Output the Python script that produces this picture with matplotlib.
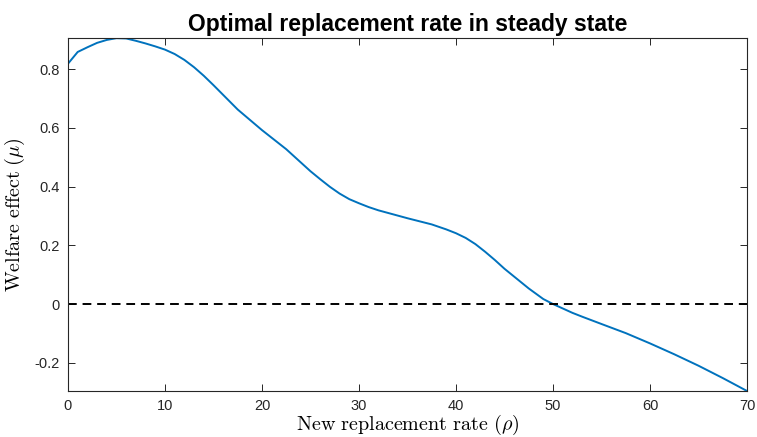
import numpy as np
import matplotlib
matplotlib.use('Agg')
import matplotlib.pyplot as plt
from matplotlib.ticker import FuncFormatter

plt.rcParams['font.family'] = ['Liberation Sans', 'DejaVu Sans']
plt.rcParams['mathtext.fontset'] = 'cm'
plt.rcParams['axes.unicode_minus'] = False

# new replacement rate (rho) and welfare effect (mu)
rho = [0, 1, 2, 3, 4, 5, 6, 7, 8, 9, 10, 11, 12, 13, 14, 15, 17.5, 20,
       22.5, 25, 26, 27, 28, 29, 30, 31, 32, 33, 35, 37.5, 39, 40, 41, 42,
       43, 44, 45, 47.5, 49, 50, 51, 52, 53, 55, 57.5, 60, 62.5, 65, 67.5, 70]
mu = [0.818, 0.858, 0.874, 0.889, 0.899, 0.905, 0.904, 0.896, 0.887, 0.877,
      0.866, 0.851, 0.831, 0.806, 0.777, 0.745, 0.662, 0.592, 0.527, 0.452,
      0.425, 0.399, 0.376, 0.357, 0.343, 0.330, 0.319, 0.310, 0.292, 0.271,
      0.254, 0.241, 0.225, 0.204, 0.178, 0.150, 0.120, 0.053, 0.017, 0.0,
      -0.015, -0.030, -0.043, -0.068, -0.099, -0.134, -0.171, -0.210, -0.252,
      -0.296]

xticks = [0, 10, 20, 30, 40, 50, 60, 70]
yticks = [-0.2, 0, 0.2, 0.4, 0.6, 0.8]

fig = plt.figure(figsize=(7.57, 4.37), dpi=100)
ax = fig.add_axes([0.0898, 0.1053, 0.897, 0.8077])

ax.plot(rho, mu, color='#0072BD', lw=1.4)
ax.axhline(0, color='black', ls=(0, (4.5, 3)), lw=1.4)

ax.set_xlim(0, 70)
ax.set_ylim(-0.296, 0.9055)
ax.set_xticks(xticks)
ax.set_yticks(yticks)
ax.yaxis.set_major_formatter(FuncFormatter(lambda v, p: '%g' % v))
ax.tick_params(direction='in', length=5, width=0.7, top=True, right=True,
               labelsize=10.5, colors='#262626', pad=6)
for s in ax.spines.values():
    s.set_color('#262626')
    s.set_linewidth(0.8)

ax.set_title('Optimal replacement rate in steady state', fontsize=16.5,
             fontweight='bold', pad=5)
ax.set_xlabel(r'$\mathrm{New\ replacement\ rate\ }(\rho)$', fontsize=14.5, labelpad=0)
ax.set_ylabel(r'$\mathrm{Welfare\ effect\ }(\mu)$', fontsize=14.5, labelpad=5)

fig.savefig('out.png', dpi=100)
